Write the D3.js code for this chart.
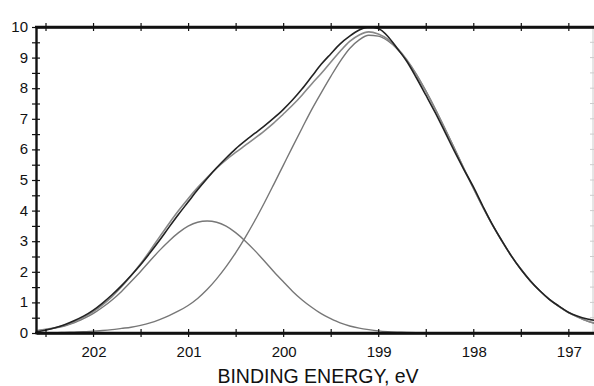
<!DOCTYPE html>
<html>
<head>
<meta charset="utf-8">
<script src="https://cdn.jsdelivr.net/npm/d3@7"></script>
<style>
  html, body { margin: 0; padding: 0; background: #fff; }
  svg { display: block; font-family: "Liberation Sans", Arial, sans-serif; }
</style>
</head>
<body>
<svg id="chart" width="594" height="386"></svg>
<script>
// Binding energy grid (eV)
const energy = [202.6,202.5,202.4,202.3,202.2,202.1,202.0,201.9,201.8,201.7,201.6,201.5,201.4,201.3,201.2,201.1,201.0,200.9,200.8,200.7,200.6,200.5,200.4,200.3,200.2,200.1,200.0,199.9,199.8,199.7,199.6,199.5,199.4,199.3,199.2,199.1,199.0,198.9,198.8,198.7,198.6,198.5,198.4,198.3,198.2,198.1,198.0,197.9,197.8,197.7,197.6,197.5,197.4,197.3,197.2,197.1,197.0,196.9,196.8,196.7];
// Measured spectrum (dark line)
const measured = [0.03,0.09,0.17,0.27,0.40,0.55,0.74,0.98,1.25,1.55,1.88,2.23,2.62,3.03,3.46,3.88,4.28,4.68,5.05,5.40,5.72,6.02,6.28,6.52,6.76,7.02,7.30,7.62,7.98,8.38,8.78,9.12,9.45,9.70,9.90,10.00,9.95,9.70,9.30,8.88,8.35,7.78,7.20,6.58,5.95,5.35,4.78,4.15,3.55,3.02,2.52,2.08,1.70,1.38,1.10,0.88,0.68,0.55,0.46,0.40];
// Component 1 (peak near 200.8 eV)
const comp1 = [0.07,0.11,0.16,0.23,0.33,0.47,0.63,0.84,1.08,1.36,1.68,2.01,2.36,2.70,3.01,3.28,3.49,3.62,3.66,3.62,3.49,3.28,3.01,2.70,2.36,2.01,1.68,1.36,1.08,0.84,0.63,0.47,0.33,0.23,0.16,0.11,0.07,0.045,0.03,0.02,0.01,0,0,0,0,0,0,0,0,0,0,0,0,0,0,0,0,0,0,0];
// Component 2 (peak near 199.1 eV)
const comp2 = [0,0.01,0.01,0.02,0.03,0.04,0.06,0.08,0.11,0.15,0.19,0.25,0.33,0.44,0.57,0.72,0.90,1.13,1.42,1.77,2.17,2.62,3.12,3.66,4.24,4.85,5.47,6.09,6.70,7.30,7.85,8.38,8.88,9.30,9.58,9.73,9.70,9.55,9.28,8.91,8.45,7.91,7.32,6.69,6.04,5.38,4.74,4.12,3.54,3.01,2.52,2.09,1.71,1.38,1.10,0.87,0.67,0.52,0.39,0.30];
// Fitted envelope (sum of the two components)
const envelope = [0.07,0.12,0.17,0.25,0.36,0.51,0.69,0.92,1.19,1.51,1.87,2.26,2.69,3.14,3.58,4.00,4.39,4.75,5.08,5.39,5.66,5.90,6.13,6.36,6.60,6.86,7.15,7.45,7.78,8.14,8.48,8.85,9.21,9.53,9.74,9.84,9.77,9.60,9.31,8.93,8.46,7.91,7.32,6.69,6.04,5.38,4.74,4.12,3.54,3.01,2.52,2.09,1.71,1.38,1.10,0.87,0.67,0.52,0.39,0.30];

const xTickLabels = [202, 201, 200, 199, 198, 197];
const yTickLabels = [0,1,2,3,4,5,6,7,8,9,10];
const xTitle = "BINDING ENERGY, eV";

const svg = d3.select("#chart");
const x = d3.scaleLinear().domain([202.6, 196.73]).range([36, 594]);
const y = d3.scaleLinear().domain([0, 10]).range([333, 27]);

const xTicks = d3.range(202.5, 196.7, -0.5);
const yTicks = d3.range(0, 10.01, 0.5);

// faint right frame
svg.append("line").attr("x1", 593).attr("x2", 593).attr("y1", 27).attr("y2", 333)
  .attr("stroke", "#ccc").attr("stroke-width", 1);
svg.selectAll(".rtick").data(yTicks.filter(v => v > 0 && v < 10)).join("line")
  .attr("x1", 590).attr("x2", 594).attr("y1", d => y(d)).attr("y2", d => y(d))
  .attr("stroke", "#ccc").attr("stroke-width", 1);

// curves
const line = (arr) => d3.line().x((d, i) => x(energy[i])).y(d => y(d)).curve(d3.curveMonotoneX)(arr);
svg.append("path").attr("d", line(comp1)).attr("fill", "none").attr("stroke", "#777").attr("stroke-width", 1.4);
svg.append("path").attr("d", line(comp2)).attr("fill", "none").attr("stroke", "#777").attr("stroke-width", 1.4);
svg.append("path").attr("d", line(envelope)).attr("fill", "none").attr("stroke", "#888").attr("stroke-width", 1.6);
svg.append("path").attr("d", line(measured)).attr("fill", "none").attr("stroke", "#222").attr("stroke-width", 1.6);

// axes
const gBottom = svg.append("g").attr("transform", "translate(0,333)")
  .call(d3.axisBottom(x).tickValues(xTicks).tickFormat("").tickSizeOuter(0));
const gTop = svg.append("g").attr("transform", "translate(0,27)")
  .call(d3.axisTop(x).tickValues(xTicks).tickFormat("").tickSizeOuter(0));
const gLeft = svg.append("g").attr("transform", "translate(36,0)")
  .call(d3.axisLeft(y).tickValues(yTicks).tickFormat("").tickSizeOuter(0));
[gBottom, gTop, gLeft].forEach(g => {
  g.select(".domain").attr("stroke", "#111").attr("stroke-width", 2.4);
  g.selectAll(".tick line").attr("stroke", "#111").attr("stroke-width", 1.2);
});
gBottom.selectAll(".tick line").attr("y1", -4).attr("y2", 4);
gTop.selectAll(".tick line").attr("y1", -4).attr("y2", 4);
gLeft.selectAll(".tick line").attr("x1", -4).attr("x2", 4);
svg.append("line").attr("x1", 35).attr("x2", 594).attr("y1", 27).attr("y2", 27).attr("stroke", "#111").attr("stroke-width", 2.4);
svg.append("line").attr("x1", 35).attr("x2", 594).attr("y1", 333).attr("y2", 333).attr("stroke", "#111").attr("stroke-width", 2.4);

// labels
svg.selectAll(".xl").data(xTickLabels).join("text")
  .attr("x", d => x(d) + 1).attr("y", 357).attr("text-anchor", "middle")
  .attr("font-size", 15).attr("fill", "#111").text(d => d);
svg.selectAll(".yl").data(yTickLabels).join("text")
  .attr("x", 28).attr("y", d => y(d) + 5).attr("text-anchor", "end")
  .attr("font-size", 15).attr("fill", "#111").text(d => d);
svg.append("text").attr("x", 318).attr("y", 383).attr("text-anchor", "middle")
  .attr("font-size", 19.5).attr("fill", "#111").text(xTitle);
</script>
</body>
</html>
